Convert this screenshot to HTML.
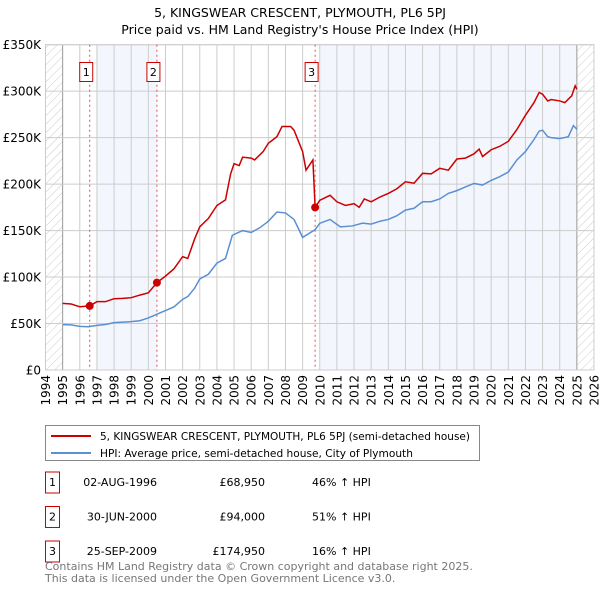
<!DOCTYPE html>
<html><head><meta charset="utf-8"><style>
body{margin:0;background:#fff;font-family:"DejaVu Sans","Liberation Sans",sans-serif;}
svg text{font-family:"DejaVu Sans","Liberation Sans",sans-serif;}
</style></head><body>
<svg id="chart" width="600" height="590" xmlns="http://www.w3.org/2000/svg">
<defs><pattern id="hatch" width="6" height="6" patternUnits="userSpaceOnUse" patternTransform="rotate(45)"><line x1="0" y1="0" x2="0" y2="6" stroke="#ccc" stroke-width="1"/></pattern></defs>
<text x="300" y="17" text-anchor="middle" font-size="12.5" fill="#000">5, KINGSWEAR CRESCENT, PLYMOUTH, PL6 5PJ</text>
<text x="300" y="34" text-anchor="middle" font-size="12.5" fill="#000">Price paid vs. HM Land Registry's House Price Index (HPI)</text>
<g id="plot"></g>
<g>
<rect x="45.5" y="425.5" width="434" height="35" fill="#fff" stroke="#888"/>
<line x1="51" y1="436" x2="91" y2="436" stroke="#cc0000" stroke-width="2"/>
<text x="100" y="440" font-size="10.6" textLength="370" lengthAdjust="spacingAndGlyphs">5, KINGSWEAR CRESCENT, PLYMOUTH, PL6 5PJ (semi-detached house)</text>
<line x1="51" y1="453" x2="91" y2="453" stroke="#5b8fd4" stroke-width="2"/>
<text x="100" y="457" font-size="10.6">HPI: Average price, semi-detached house, City of Plymouth</text>
</g>
<g id="table" font-size="11"></g>
<text x="45" y="570" font-size="11" fill="#777">Contains HM Land Registry data © Crown copyright and database right 2025.</text>
<text x="45" y="582" font-size="11" fill="#777">This data is licensed under the Open Government Licence v3.0.</text>
</svg>
<script>
const hpiYears=[1995,1995.5,1996,1996.5,1997,1997.5,1998,1998.5,1999,1999.5,2000,2000.5,2001,2001.5,2002,2002.3,2002.7,2003,2003.5,2004,2004.5,2004.9,2005.5,2006,2006.5,2007,2007.5,2008,2008.5,2009,2009.73,2010,2010.6,2011.2,2011.9,2012.5,2013,2013.5,2014,2014.5,2015,2015.5,2016,2016.5,2017,2017.5,2018,2018.5,2019,2019.5,2020,2020.5,2021,2021.5,2022,2022.5,2022.8,2023,2023.3,2023.5,2024,2024.5,2024.8,2025];
const hpiValues=[48.8,48.5,47,46.5,48,49,51,51.5,52,53,56,60,64,68,76,79,88,98,103,115,120,145,150,148,153,160,170,169,162,142.7,151,157.8,162,154,155,158,157,160,162,166,172,174,181,181,184,190,193,197,200.7,199,204,208,213,226,235,248,257,258,251,250,249,251,263,259];
const ppYears=[1995,1995.5,1996,1996.58,1997,1997.5,1998,1998.5,1999,1999.5,2000,2000.5,2001,2001.5,2002,2002.3,2002.7,2003,2003.5,2004,2004.5,2004.8,2005,2005.3,2005.5,2006,2006.2,2006.7,2007,2007.5,2007.8,2008.3,2008.5,2009,2009.2,2009.6,2009.73,2010,2010.6,2011,2011.5,2012,2012.3,2012.6,2013,2013.5,2014,2014.5,2015,2015.5,2016,2016.5,2017,2017.5,2018,2018.5,2019,2019.3,2019.5,2020,2020.5,2021,2021.5,2022,2022.5,2022.8,2023,2023.3,2023.5,2024,2024.3,2024.7,2024.9,2025];
const ppValues=[71.7,71,68,68.95,73.5,73.5,76.7,77,77.8,80.6,83,94,101,109,122,120,141,154,163,177,183,211,222,220,229,228,226,235,244,251,262,262,258,235,215,226,174.95,182.6,188,181,177,179,175,184,181,186,190,195,202.5,201,211.6,211,217,215,227,228,232.6,237.7,229.7,237,240.6,246,258.7,274,287.7,298.6,296.7,289.5,291,289.5,287.7,295,305.8,302];
const saleLabels=["1","2","3"];
const saleYears=[1996.58,2000.5,2009.73];
const saleValues=[68.95,94,174.95];
const saleDates=["02-AUG-1996","30-JUN-2000","25-SEP-2009"];
const salePrices=["£68,950","£94,000","£174,950"];
const saleHpi=["46% ↑ HPI","51% ↑ HPI","16% ↑ HPI"];
const yTicks=[0,50,100,150,200,250,300,350];
const yTickLabels=["£0","£50K","£100K","£150K","£200K","£250K","£300K","£350K"];
const xTicks=[1994,1995,1996,1997,1998,1999,2000,2001,2002,2003,2004,2005,2006,2007,2008,2009,2010,2011,2012,2013,2014,2015,2016,2017,2018,2019,2020,2021,2022,2023,2024,2025,2026];

const NS="http://www.w3.org/2000/svg";
const L=45.5,R=594,T=44.7,B=370;
const X=y=>L+(y-1994)*(R-L)/32;
const Y=v=>B-v*(B-T)/350;
const plot=document.getElementById('plot');
function mk(tag,attrs,parent){const e=document.createElementNS(NS,tag);for(const k in attrs)e.setAttribute(k,attrs[k]);(parent||plot).appendChild(e);return e;}
let e;
e=mk('rect',{x:X(1997),y:T,width:X(2000.5)-X(1997),height:B-T,fill:'#eef3fc',opacity:0.7});


e=mk('rect',{x:X(2010),y:T,width:X(2025)-X(2010),height:B-T,fill:'#eef3fc',opacity:0.7});


e=mk('rect',{x:L,y:T,width:X(1995)-L,height:B-T,fill:'url(#hatch)'});


e=mk('rect',{x:X(2025),y:T,width:R-X(2025),height:B-T,fill:'url(#hatch)'});


xTicks.forEach(t=>{
 e=mk('line',{x1:X(t),x2:X(t),y1:T,y2:B,stroke:(t==1995||t==2025)?'#999':'#ccc','stroke-width':1});
 
 
 e=mk('text',{x:0,y:0,transform:`translate(${X(t)+4.5},${B+5}) rotate(-90)`,'text-anchor':'end','font-size':12});
 e.textContent=t;
 
 
});
yTicks.forEach((t,i)=>{
 e=mk('line',{x1:L,x2:R,y1:Y(t),y2:Y(t),stroke:'#ccc','stroke-width':1});
 
 
 e=mk('text',{x:41,y:Y(t)+4.5,'text-anchor':'end','font-size':12});
 e.textContent=yTickLabels[i];
 
 
});
e=mk('rect',{x:L,y:T,width:R-L,height:B-T,fill:'none',stroke:'#ccc'});


saleYears.forEach((s,i)=>{
 e=mk('line',{x1:X(s),x2:X(s),y1:T,y2:B,stroke:'#e05050','stroke-width':1,'stroke-dasharray':'2,3'});
 
 
 e=mk('rect',{x:X(s)-10,y:62.5,width:13,height:19,fill:'#fff',stroke:'#cc0000'});
 
 
 e=mk('text',{x:X(s)-3.5,y:76,'text-anchor':'middle','font-size':11});
 e.textContent=saleLabels[i];
 
 
});
e=mk('polyline',{points:hpiYears.map((y,i)=>X(y)+','+Y(hpiValues[i])).join(' '),fill:'none',stroke:'#5b8fd4','stroke-width':1.5});


e=mk('polyline',{points:ppYears.map((y,i)=>X(y)+','+Y(ppValues[i])).join(' '),fill:'none',stroke:'#cc0000','stroke-width':1.5});


saleYears.forEach((s,i)=>{
 e=mk('circle',{cx:X(s),cy:Y(saleValues[i]),r:4,fill:'#cc0000'});
 
 
});
const tb=document.getElementById('table');
saleLabels.forEach((l,i)=>{
 const y=486+i*34.5;
 e=mk('rect',{x:45.5,y:y-14,width:14,height:21,fill:'#fff',stroke:'#cc0000'},tb);
 
 
 e=mk('text',{x:52.5,y:y,'text-anchor':'middle'},tb);e.textContent=l;
 
 
 e=mk('text',{x:157,y:y,'text-anchor':'end'},tb);e.textContent=saleDates[i];
 
 
 e=mk('text',{x:265,y:y,'text-anchor':'end'},tb);e.textContent=salePrices[i];
 
 
 e=mk('text',{x:312,y:y},tb);e.textContent=saleHpi[i];
 
 
});
</script>
</body></html>
